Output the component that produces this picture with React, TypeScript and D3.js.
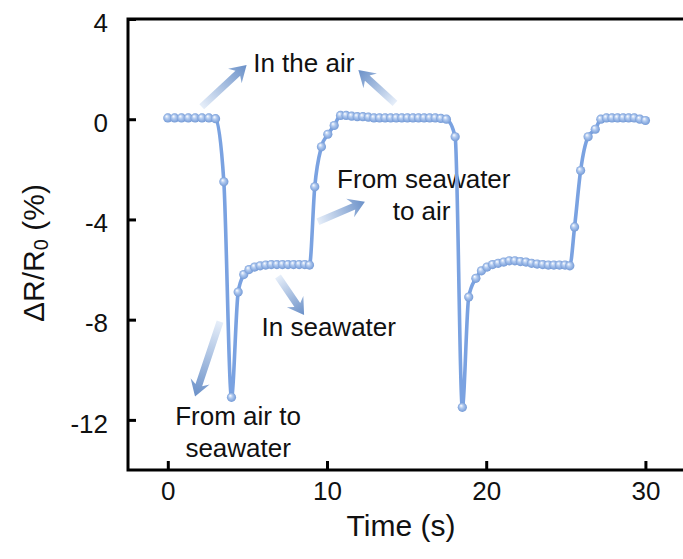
import { useEffect, useRef } from "react";
import * as d3 from "d3";

const times = [
  0, 0.43, 0.86, 1.29, 1.72, 2.15, 2.58, 3.0,
  3.52, 4.0, 4.42, 4.77, 5.1, 5.45, 5.8, 6.15, 6.5, 6.85, 7.2, 7.55, 7.9, 8.25, 8.6, 8.9,
  9.23, 9.65, 10.05, 10.45,
  10.85, 11.2, 11.55, 11.9, 12.25, 12.6, 12.95, 13.3, 13.65, 14.0, 14.35, 14.7, 15.05, 15.4, 15.75, 16.1, 16.45, 16.8, 17.15, 17.5,
  18.05, 18.5, 18.9, 19.35, 19.7, 20.05, 20.4, 20.75, 21.1, 21.45, 21.8, 22.15, 22.5, 22.85, 23.2, 23.55, 23.9, 24.25, 24.6, 24.95, 25.25,
  25.55, 25.93, 26.4, 26.85,
  27.2, 27.55, 27.9, 28.25, 28.6, 28.95, 29.3, 29.65, 30.0,
];
const values = [
  0.05, 0.05, 0.05, 0.05, 0.05, 0.05, 0.05, 0.02,
  -2.5, -11.1, -6.9, -6.2, -6.0, -5.9, -5.85, -5.82, -5.8, -5.8, -5.8, -5.8, -5.8, -5.8, -5.8, -5.82,
  -2.7, -1.1, -0.6, -0.25,
  0.15, 0.15, 0.12, 0.1, 0.1, 0.08, 0.05, 0.05, 0.05, 0.05, 0.05, 0.05, 0.05, 0.05, 0.05, 0.05, 0.05, 0.05, 0.03, 0.0,
  -0.7, -11.5, -7.1, -6.35, -6.05, -5.9, -5.8, -5.75, -5.7, -5.65, -5.65, -5.68, -5.7, -5.75, -5.78, -5.8, -5.82, -5.82, -5.82, -5.82, -5.85,
  -4.3, -2.05, -0.7, -0.4,
  0.0, 0.05, 0.05, 0.05, 0.05, 0.05, 0.05, 0.0, -0.05,
];

const xTicks = [0, 10, 20, 30];
const yTicks = [4, 0, -4, -8, -12];

// annotation texts, anchored in data units (center x, baseline y)
const labelTexts = ["In the air", "From seawater", "to air", "In seawater", "From air to", "seawater"];
const labelT = [8.54, 16.08, 15.94, 10.11, 4.41, 4.42];
const labelV = [1.9, -2.76, -4.02, -8.65, -12.2, -13.47];

// arrows: tail -> head in data units
const arrowTail = [[2.13, 0.5], [14.27, 0.63], [9.43, -4.09], [6.92, -6.28], [3.28, -8.08]];
const arrowHead = [[4.95, 2.16], [11.97, 1.96], [12.38, -3.29], [8.56, -7.81], [1.71, -11.07]];

const App = () => {
  const svgRef = useRef<SVGSVGElement | null>(null);
  const width = 683;
  const height = 559;

  useEffect(() => {
    if (!svgRef.current) return;
    const svg = d3.select(svgRef.current);
    svg.selectAll("*").remove();

    const font = "'Liberation Sans', Arial, sans-serif";
    const left = 128, right = 690, top = 19, bottom = 470;

    const x = d3.scaleLinear().domain([-2.5, 32.8]).range([left, right]);
    const y = d3.scaleLinear().domain([-14, 4]).range([bottom, top]);

    const defs = svg.append("defs");
    const ball = defs.append("radialGradient").attr("id", "ball")
      .attr("cx", "50%").attr("cy", "50%").attr("r", "55%")
      .attr("fx", "35%").attr("fy", "30%");
    ball.append("stop").attr("offset", "0%").attr("stop-color", "#ffffff");
    ball.append("stop").attr("offset", "40%").attr("stop-color", "#b0c9ef");
    ball.append("stop").attr("offset", "100%").attr("stop-color", "#6c94d3");

    // frame: left, top, bottom (right side runs off the picture)
    svg.append("path")
      .attr("d", `M${right},${top}H${left}V${bottom}H${right}`)
      .attr("fill", "none")
      .attr("stroke", "#000")
      .attr("stroke-width", 3);

    const yAxis = svg.append("g")
      .attr("transform", `translate(${left},0)`)
      .call(d3.axisLeft(y).tickValues(yTicks).tickSize(-8).tickPadding(20).tickFormat((d) => String(d)));
    const xAxis = svg.append("g")
      .attr("transform", `translate(0,${bottom})`)
      .call(d3.axisBottom(x).tickValues(xTicks).tickSize(-9).tickPadding(12).tickFormat((d) => String(d)));

    [xAxis, yAxis].forEach((g) => {
      g.select(".domain").remove();
      g.selectAll("line").attr("stroke", "#000").attr("stroke-width", 3);
      g.selectAll("text")
        .attr("font-family", font)
        .attr("font-size", 26)
        .attr("fill", "#111");
    });
    yAxis.selectAll("text").attr("dy", "0.47em");

    // axis titles
    svg.append("text")
      .attr("x", 401).attr("y", 536)
      .attr("text-anchor", "middle")
      .attr("font-family", font).attr("font-size", 30).attr("fill", "#111")
      .text("Time (s)");

    const yl = svg.append("text")
      .attr("transform", "translate(44,253) rotate(-90)")
      .attr("text-anchor", "middle")
      .attr("font-family", font).attr("font-size", 30).attr("fill", "#111");
    yl.append("tspan").text("ΔR/R");
    yl.append("tspan").attr("font-size", 20).attr("dy", 4).text("0");
    yl.append("tspan").attr("dy", -4).text(" (%)");

    // arrows with fading gradient
    arrowTail.forEach((tail, i) => {
      const x0 = x(tail[0]), y0 = y(tail[1]);
      const x1 = x(arrowHead[i][0]), y1 = y(arrowHead[i][1]);
      const gid = `arrowGrad${i}`;
      const lg = defs.append("linearGradient").attr("id", gid)
        .attr("gradientUnits", "userSpaceOnUse")
        .attr("x1", x0).attr("y1", y0).attr("x2", x1).attr("y2", y1);
      lg.append("stop").attr("offset", "0%").attr("stop-color", "#e6eef9");
      lg.append("stop").attr("offset", "100%").attr("stop-color", "#6a90c8");

      const dx = x1 - x0, dy = y1 - y0;
      const len = Math.hypot(dx, dy);
      const ux = dx / len, uy = dy / len;
      const nx = -uy, ny = ux;
      const shaft = 3.5, headLen = 16, headW = 10, notch = 4;
      const p = (a: number, b: number) => [x0 + ux * a + nx * b, y0 + uy * a + ny * b];
      const pts = [
        p(0, shaft), p(len - headLen + notch, shaft), p(len - headLen, headW),
        p(len, 0),
        p(len - headLen, -headW), p(len - headLen + notch, -shaft), p(0, -shaft),
      ];
      svg.append("polygon")
        .attr("points", pts.map((q) => q.join(",")).join(" "))
        .attr("fill", `url(#${gid})`);
    });

    // annotation text
    labelTexts.forEach((t, i) => {
      svg.append("text")
        .attr("x", x(labelT[i])).attr("y", y(labelV[i]))
        .attr("text-anchor", "middle")
        .attr("font-family", font).attr("font-size", 26).attr("fill", "#111")
        .text(t);
    });

    // data line + ball markers
    const pts: [number, number][] = times.map((t, i) => [t, values[i]]);
    const line = d3.line<[number, number]>()
      .x((d) => x(d[0]))
      .y((d) => y(d[1]))
      .curve(d3.curveMonotoneX);

    svg.append("path")
      .attr("d", line(pts))
      .attr("fill", "none")
      .attr("stroke", "#7aa2e1")
      .attr("stroke-width", 3.6)
      .attr("stroke-linejoin", "round");

    svg.append("g").selectAll("circle")
      .data(pts)
      .join("circle")
      .attr("cx", (d) => x(d[0]))
      .attr("cy", (d) => y(d[1]))
      .attr("r", 4.6)
      .attr("fill", "url(#ball)");
  }, []);

  return (
    <svg
      ref={svgRef}
      width={width}
      height={height}
      viewBox={`0 0 ${width} ${height}`}
      style={{ position: "absolute", left: 0, top: 0, background: "#fff" }}
    />
  );
};

export default App;
